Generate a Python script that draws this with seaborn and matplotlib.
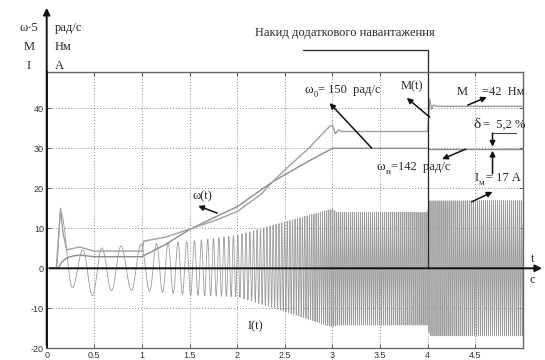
import numpy as np
import matplotlib
matplotlib.use("Agg")
import matplotlib.pyplot as plt
import seaborn as sns

# ---- data ----
# M(t), Нм
m_t = [0.0, 0.10, 0.125, 0.145, 0.17, 0.21, 0.28, 0.35, 0.42, 0.5, 1.0, 1.02,
       1.25, 1.5, 1.75, 2.0, 2.25, 2.37, 2.5, 2.75, 2.97, 3.0, 3.03, 3.06, 3.1,
       4.0, 4.02, 4.04, 4.06, 4.1, 5.0]
m_v = [0, 0, 8, 15, 9, 4.6, 5.0, 5.3, 4.8, 4.3, 4.3, 6.8,
       7.8, 9.8, 11.8, 14.2, 18.5, 21.6, 24.6, 30.0, 35.5, 35.8, 33.6, 34.6, 34.2,
       34.2, 42.3, 39.8, 40.8, 40.5, 40.5]

# omega(t) / 5, рад/с
w_t = [0.0, 0.12, 0.16, 0.21, 0.28, 0.35, 0.5, 1.0, 1.25, 1.5, 1.75, 2.0,
       2.25, 2.37, 2.5, 2.75, 3.0, 4.0, 4.02, 5.0]
w_v = [0, 0, 1.6, 2.6, 3.1, 3.3, 2.9, 2.9, 6.0, 9.7, 12.6, 15.4,
       19.6, 21.6, 23.4, 26.8, 30.0, 30.0, 29.7, 29.7]

# I(t), А: low-frequency extrema at start
i_ext_t = [0.10, 0.148, 0.27, 0.38, 0.48, 0.58, 0.68, 0.78, 0.89, 0.99]
i_ext_v = [0, 14, -4.8, 4.6, -6.8, 5.1, -5.6, 5.6, -5.5, 6.0]
# I(t) after t = 1: frequency and envelope
f_t = [0.99, 1.2, 1.5, 2.0, 2.5, 3.0, 5.0]
f_hz = [5, 8, 12, 22, 35, 48, 48]
env_t = [0.99, 1.5, 2.0, 2.5, 2.95, 3.0, 3.05, 4.0, 4.02, 5.0]
env_hi = [6.0, 6.7, 8.3, 11.6, 14.5, 14.8, 14.0, 14.0, 16.9, 16.9]
env_lo = [-5.5, -6.7, -7.1, -10.8, -14.3, -14.6, -14.2, -14.2, -16.9, -16.9]

x_ticks = [0, 0.5, 1, 1.5, 2, 2.5, 3, 3.5, 4, 4.5]
x_labels = ["0", "0.5", "1", "1.5", "2", "2.5", "3", "3.5", "4", "4.5"]
y_ticks = [-20, -10, 0, 10, 20, 30, 40]

# ---- build I(t) ----
seg_t, seg_v = [], []
for k in range(len(i_ext_t) - 1):
    tt = np.linspace(i_ext_t[k], i_ext_t[k + 1], 40, endpoint=False)
    s = (tt - i_ext_t[k]) / (i_ext_t[k + 1] - i_ext_t[k])
    seg_t.append(tt)
    seg_v.append(i_ext_v[k] + (i_ext_v[k + 1] - i_ext_v[k]) * (1 - np.cos(np.pi * s)) / 2)
t2 = np.linspace(i_ext_t[-1], 5.0, 40000)
phase = 2 * np.pi * np.concatenate([[0], np.cumsum(np.interp(t2, f_t, f_hz)[:-1] * np.diff(t2))])
c = np.cos(phase)
i2 = np.where(c > 0, c * np.interp(t2, env_t, env_hi), -c * np.interp(t2, env_t, env_lo))
i_t = np.concatenate(seg_t + [t2])
i_v = np.concatenate(seg_v + [i2])

# ---- figure ----
sns.set_style("ticks")
plt.rcParams["font.family"] = ["Liberation Serif", "DejaVu Serif"]

W, H = 545, 360
fig = plt.figure(figsize=(W / 100, H / 100), dpi=100)
x0px, x5px = 46.7, 523.0
ax = fig.add_axes([x0px / W, 1 - 348.3 / H, (x5px - x0px) / W, (348.3 - 71.7) / H])
ax.set_xlim(0, 5)
ax.set_ylim(-20, (348.3 - 71.7) / 4 - 20)

ax.grid(True, linestyle=(0, (1, 2)), color="#8a8a8a", linewidth=0.7)
ax.set_axisbelow(True)

sns.lineplot(x=i_t, y=i_v, ax=ax, color="#9c9c9c", linewidth=0.6,
             estimator=None, sort=False)
sns.lineplot(x=w_t, y=w_v, ax=ax, color="#8c8c8c", linewidth=1.0,
             estimator=None, sort=False)
sns.lineplot(x=m_t, y=m_v, ax=ax, color="#a0a0a0", linewidth=1.0,
             estimator=None, sort=False)

ax.set_xticks(x_ticks)
ax.set_xticklabels(x_labels, family="Liberation Sans", fontsize=6.5, color="#333")
ax.set_yticks(y_ticks)
ax.set_yticklabels([str(v) for v in y_ticks], family="Liberation Sans", fontsize=6.5, color="#333")
ax.tick_params(direction="in", length=3, width=0.7, color="#555", pad=2,
               top=True, right=True)
for side in ["top", "right", "bottom"]:
    ax.spines[side].set_color("#666")
    ax.spines[side].set_linewidth(1.0)
ax.spines["left"].set_color("#222")
ax.spines["left"].set_linewidth(1.4)

# axes with arrows
ax.annotate("", xy=(5.23, 0), xytext=(0, 0), annotation_clip=False,
            arrowprops=dict(arrowstyle="-|>", color="#111", lw=1.4, mutation_scale=10))
ax.annotate("", xy=(0, 65.8), xytext=(0, -20), annotation_clip=False,
            arrowprops=dict(arrowstyle="-|>", color="#111", lw=1.4, mutation_scale=10))
ax.text(5.10, 2.3, "t", fontsize=9, ha="center", va="center", clip_on=False)
ax.text(5.10, -2.9, "с", fontsize=9, ha="center", va="center", clip_on=False)

# load step bracket
ax.plot([2.69, 4.0, 4.0], [54.6, 54.6, 0], color="#222", lw=0.9, clip_on=False)
ax.text(3.13, 58.8, "Накид додаткового навантаження", fontsize=9,
        ha="center", va="center", clip_on=False)

# axis labels top-left
for txt, unit, ypx in [("ω·5", "рад/с", 28), ("M", "Нм", 47), ("I", "А", 66)]:
    fig.text(29 / W, 1 - ypx / H, txt, fontsize=9, ha="center", va="center")
    fig.text(55 / W, 1 - ypx / H, unit, fontsize=9, ha="left", va="center")

arrow = dict(arrowstyle="-|>", color="#111", lw=1.1, mutation_scale=8, shrinkA=0, shrinkB=0)

def arr(tail, head):
    ax.annotate("", xy=head, xytext=tail, arrowprops=arrow, annotation_clip=False)

# omega_0
ax.text(2.795, 44.6, "ω", fontsize=9.5, ha="right", va="center")
ax.text(2.80, 43.4, "0", fontsize=6, ha="left", va="center")
ax.text(2.85, 44.6, "= 150  рад/с", fontsize=9, ha="left", va="center")
arr((3.41, 30.1), (2.97, 41.3))
# M(t)
ax.text(3.83, 45.5, "M(t)", fontsize=9, ha="center", va="center")
arr((4.02, 37.8), (3.78, 42.6))
# M = 42
ax.text(4.36, 44.1, "M", fontsize=9, ha="center", va="center")
ax.text(4.57, 44.1, "=42  Нм", fontsize=9, ha="left", va="center", clip_on=False)
arr((4.42, 40.8), (4.62, 42.8))
# delta
ax.text(4.52, 36.0, "δ", fontsize=11, ha="center", va="center")
ax.text(4.58, 36.0, "=  5,2 %", fontsize=9, ha="left", va="center", clip_on=False)
ax.plot([4.68, 4.93], [33.8, 33.8], color="#444", lw=0.8, clip_on=False)
ax.plot([4.77, 4.93], [30.0, 30.0], color="#aaa", lw=0.8, ls=":", clip_on=False)
arr((4.68, 33.8), (4.68, 30.4))
arr((4.68, 23.6), (4.68, 29.4))
# omega_n
ax.text(3.55, 25.3, "ω", fontsize=9.5, ha="right", va="center")
ax.text(3.555, 24.1, "н", fontsize=6.5, ha="left", va="center")
ax.text(3.61, 25.3, "=142  рад/с", fontsize=9, ha="left", va="center")
arr((4.40, 29.8), (4.15, 27.3))
# I_m
ax.text(4.53, 22.6, "I", fontsize=9, ha="right", va="center")
ax.text(4.535, 21.4, "м", fontsize=6.5, ha="left", va="center")
ax.text(4.61, 22.6, "= 17 А", fontsize=9, ha="left", va="center", clip_on=False)
arr((4.46, 16.6), (4.68, 19.1))
# omega(t)
ax.text(1.63, 18.0, "ω(t)", fontsize=9, ha="center", va="center")
arr((1.79, 13.8), (1.59, 15.6))
# I(t)
ax.text(2.19, -14.4, "I(t)", fontsize=9, ha="center", va="center")

fig.savefig("out.png", dpi=100)
